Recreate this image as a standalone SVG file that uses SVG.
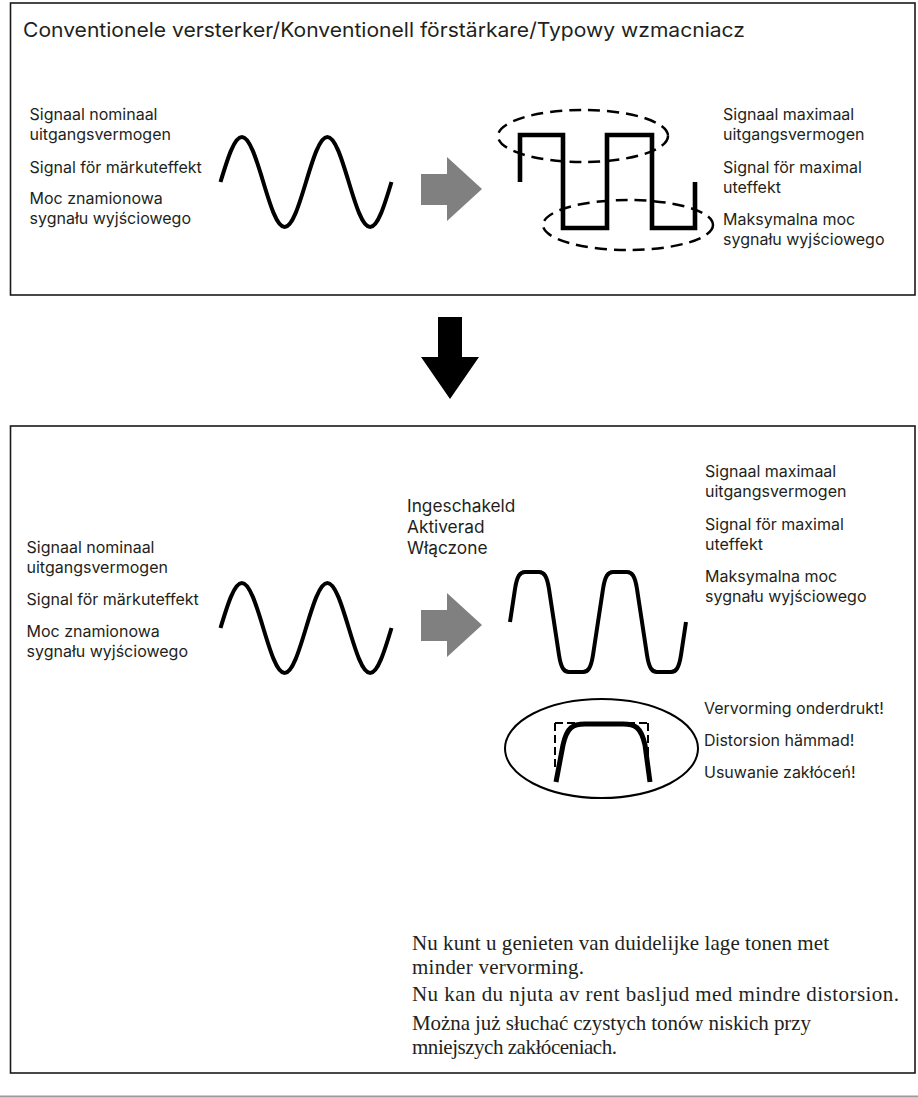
<svg xmlns="http://www.w3.org/2000/svg" width="918" height="1098" viewBox="0 0 918 1098">
<style>
.box{fill:#fff;stroke:#1a1a1a;stroke-width:1.6}
.t{font-family:Inter,"Open Sans","Liberation Sans",sans-serif;font-size:16px;fill:#231f20}
.title{font-size:20px}
.big{font-size:17.3px}
.s{font-family:"Liberation Serif",serif;font-size:21px;fill:#231f20}
.wave{fill:none;stroke:#000;stroke-width:4}
.sq{fill:none;stroke:#000;stroke-width:4.6;stroke-linejoin:miter}
.dash{fill:none;stroke:#000;stroke-width:2.5;stroke-dasharray:12 7}
.garrow{fill:#808080}
</style>
<defs>
<path id="sine" class="wave" d="M0,0 c6.97,-23.05 13.64,-45 21.375,-45 c7.735,0 14.405,21.95 21.375,45 c6.97,23.05 13.64,45 21.375,45 c7.735,0 14.405,-21.95 21.375,-45 c6.97,-23.05 13.64,-45 21.375,-45 c7.735,0 14.405,21.95 21.375,45 c6.97,23.05 13.64,45 21.375,45 c7.735,0 14.405,-21.95 21.375,-45"/>
<polygon id="garrow" class="garrow" points="421,174 447,174 447,157 482,189 447,221 447,205 421,205"/>
</defs>
<rect width="918" height="1098" fill="#fff"/>
<line x1="0" y1="1096.5" x2="918" y2="1096.5" stroke="#9a9a9a" stroke-width="2"/>

<g id="panel-conventional">
<rect class="box" x="10.5" y="3" width="904.5" height="292"/>
<text class="t title" x="23" y="37" textLength="722" lengthAdjust="spacingAndGlyphs">Conventionele versterker/Konventionell förstärkare/Typowy wzmacniacz</text>
<g id="top-input-label">
<text class="t" x="29.5" y="120">Signaal nominaal</text>
<text class="t" x="29.5" y="140">uitgangsvermogen</text>
<text class="t" x="29.5" y="173">Signal för märkuteffekt</text>
<text class="t" x="29.5" y="204">Moc znamionowa</text>
<text class="t" x="29.5" y="224">sygnału wyjściowego</text>
</g>
<g id="top-input-wave"><use href="#sine" x="220.5" y="182"/></g>
<g id="top-arrow"><use href="#garrow"/></g>
<g id="top-output-wave">
<path class="sq" d="M520,182 V135 H563 V228 H607 V135 H652 V228 H695 V182"/>
<ellipse class="dash" cx="583" cy="136" rx="85" ry="26"/>
<ellipse class="dash" cx="628" cy="225" rx="85" ry="25"/>
</g>
<g id="top-output-label">
<text class="t" x="723" y="120">Signaal maximaal</text>
<text class="t" x="723" y="140">uitgangsvermogen</text>
<text class="t" x="723" y="173">Signal för maximal</text>
<text class="t" x="723" y="193">uteffekt</text>
<text class="t" x="723" y="225">Maksymalna moc</text>
<text class="t" x="723" y="245">sygnału wyjściowego</text>
</g>
</g>

<g id="connectors">
<polygon fill="#000" points="438,317 462,317 462,357 479,357 450,399 421,357 438,357"/>
</g>

<g id="panel-improved">
<rect class="box" x="10.5" y="426" width="904.5" height="647"/>
<g id="bottom-input-label">
<text class="t" x="26.5" y="553">Signaal nominaal</text>
<text class="t" x="26.5" y="573">uitgangsvermogen</text>
<text class="t" x="26.5" y="605">Signal för märkuteffekt</text>
<text class="t" x="26.5" y="637">Moc znamionowa</text>
<text class="t" x="26.5" y="657">sygnału wyjściowego</text>
</g>
<g id="bottom-input-wave"><use href="#sine" x="220.5" y="628"/></g>
<g id="bottom-arrow"><use href="#garrow" y="436"/></g>
<g id="switch-label">
<text class="t big" x="407" y="512">Ingeschakeld</text>
<text class="t big" x="407" y="533">Aktiverad</text>
<text class="t big" x="407" y="554">Włączone</text>
</g>
<g id="bottom-output-wave">
<path class="wave" stroke-width="4.5" d="M510,622 L515,589 C517,576 520,572 525,572 L539,572 C544,572 547,576 549,589 L554,622 L559,655 C561,668 564,672 569,672 L583,672 C588,672 591,668 593,655 L598,622 L603,589 C605,576 608,572 613,572 L627,572 C632,572 635,576 637,589 L642,622 L647,655 C649,668 652,672 657,672 L671,672 C676,672 679,668 681,655 L686,622"/>
</g>
<g id="bottom-output-label">
<text class="t" x="705" y="477">Signaal maximaal</text>
<text class="t" x="705" y="497">uitgangsvermogen</text>
<text class="t" x="705" y="530">Signal för maximal</text>
<text class="t" x="705" y="550">uteffekt</text>
<text class="t" x="705" y="582">Maksymalna moc</text>
<text class="t" x="705" y="602">sygnału wyjściowego</text>
</g>
<g id="detail">
<ellipse cx="601.5" cy="748.5" rx="96.5" ry="49.5" fill="none" stroke="#000" stroke-width="2"/>
<path d="M555,723 H648 M555,723 V768 M648,723 V768" fill="none" stroke="#000" stroke-width="2" stroke-dasharray="8 4"/>
<path d="M556,782 L563,745 C567,727 573,724 585,724 L623,724 C635,724 641,727 645,745 L650,782" fill="none" stroke="#000" stroke-width="5"/>
</g>
<g id="detail-label">
<text class="t" x="704" y="714">Vervorming onderdrukt!</text>
<text class="t" x="704" y="746">Distorsion hämmad!</text>
<text class="t" x="704" y="778">Usuwanie zakłóceń!</text>
</g>
<g id="summary">
<text class="s" x="412" y="950" textLength="417">Nu kunt u genieten van duidelijke lage tonen met</text>
<text class="s" x="412" y="973.5" textLength="172">minder vervorming.</text>
<text class="s" x="412" y="1001" textLength="487">Nu kan du njuta av rent basljud med mindre distorsion.</text>
<text class="s" x="412" y="1030" textLength="399">Można już słuchać czystych tonów niskich przy</text>
<text class="s" x="412" y="1053.5" textLength="205">mniejszych zakłóceniach.</text>
</g>
</g>
</svg>
